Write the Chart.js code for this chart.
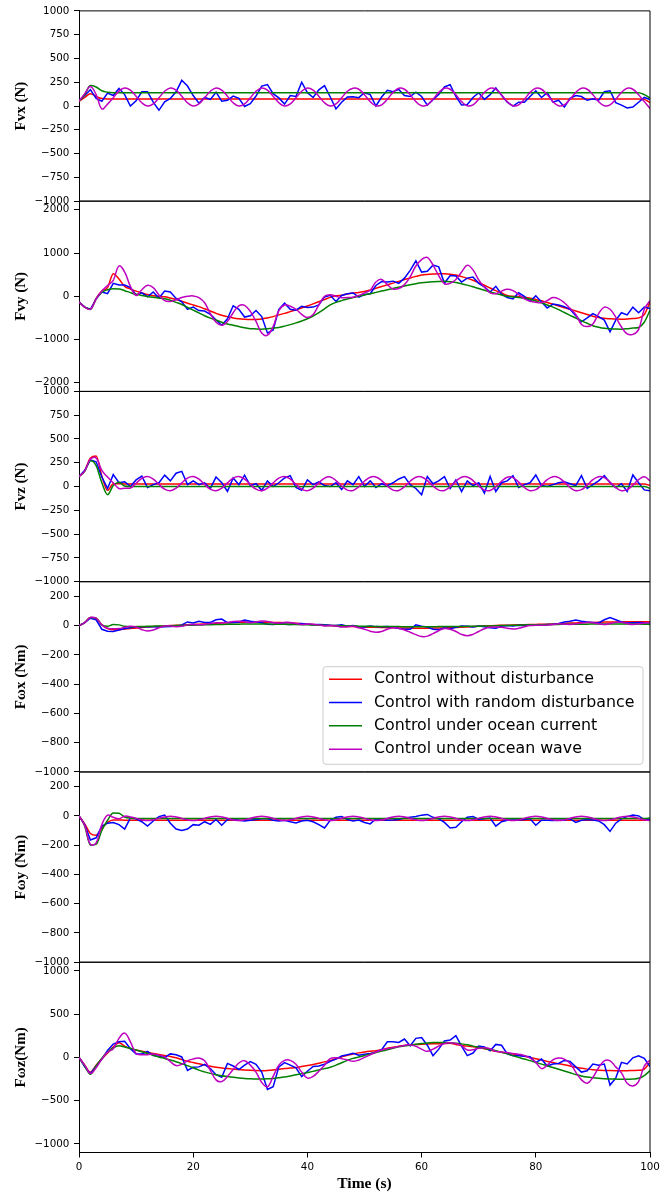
<!DOCTYPE html>
<html><head><meta charset="utf-8">
<script src="https://cdn.jsdelivr.net/npm/chart.js@4.4.1/dist/chart.umd.min.js"></script>
<style>html,body{margin:0;padding:0;background:#fff;}#wrap{position:relative;width:661px;height:1198px;}</style>
</head><body><div id="wrap"><canvas id="c" width="661" height="1198"></canvas></div>
<script>
const timeS = [0,1,2,3,4,5,6,7,8,9,10,11,12,13,14,15,16,17,18,19,20,21,22,23,24,25,26,27,28,29,30,31,32,33,34,35,36,37,38,39,40,41,42,43,44,45,46,47,48,49,50,51,52,53,54,55,56,57,58,59,60,61,62,63,64,65,66,67,68,69,70,71,72,73,74,75,76,77,78,79,80,81,82,83,84,85,86,87,88,89,90,91,92,93,94,95,96,97,98,99,100];
const seriesLabels = ['Control without disturbance','Control with random disturbance','Control under ocean current','Control under ocean wave'];
const seriesColors = ['#ff0000','#0000ff','#008000','#bf00bf'];
const panelTitles = ['Fvx (N)','Fvy (N)','Fvz (N)','F\u03c9x (Nm)','F\u03c9y (Nm)','F\u03c9z(Nm)'];
const panelMin = [-1000,-2200,-1000,-1000,-1000,-1100];
const panelMax = [1000,2200,1000,300,300,1100];
const fvxTicks = [-1000,-750,-500,-250,0,250,500,750,1000];
const fvyTicks = [-2000,-1000,0,1000,2000];
const fvzTicks = [-1000,-750,-500,-250,0,250,500,750,1000];
const fwxTicks = [-1000,-800,-600,-400,-200,0,200];
const fwyTicks = [-1000,-800,-600,-400,-200,0,200];
const fwzTicks = [-1000,-500,0,500,1000];
const xTicks = [0,20,40,60,80,100];

// ---- Fvx ----
const fvxRed = [50,90,130,100,78,75,75,75,75,75, 75,75,75,75,75,75,75,75,75,75, 75,75,75,75,75,75,75,75,75,75, 75,75,75,75,75,75,75,75,75,75, 75,75,75,75,75,75,75,75,75,75, 75,75,75,75,75,75,75,75,75,75, 75,75,75,75,75,75,75,75,75,75, 75,75,75,75,75,75,75,75,75,75, 75,75,75,75,75,75,75,75,75,75, 75,75,75,75,75,75,75,75,75,70, 35];
const fvxBlue = [55,110,172,80,50,135,110,185,120,0, 55,150,150,40,-45,45,80,150,270,210, 110,30,90,70,145,50,60,105,80,-5, 25,105,210,225,130,85,20,110,100,250, 140,90,170,215,95,-30,40,95,98,88, 140,120,0,95,165,150,175,110,100,145, 100,10,67,120,200,225,100,10,15,90, 140,70,120,190,112,40,0,40,40,100, 160,90,140,42,60,-10,80,110,100,60, 75,62,150,160,35,10,-20,-10,40,90, 67];
const fvxGreen = [50,120,215,200,160,145,140,140,140,140, 140,140,140,140,140,140,140,140,140,140, 140,140,140,140,140,140,140,140,140,140, 140,140,140,140,140,140,140,140,140,140, 140,140,140,140,140,140,140,140,140,140, 140,140,140,140,140,140,140,140,140,140, 140,140,140,140,140,140,140,140,140,140, 140,140,140,140,140,140,140,140,140,140, 140,140,140,140,140,140,140,140,140,140, 140,140,140,140,140,140,140,140,140,120, 85];
const fvxMagenta = [50,130,205,120,-30,20,88,157,190,167, 103,34,0,22,86,155,190,167,103,34, 0,22,86,155,190,167,103,34,0,22, 86,155,190,167,103,34,0,22,86,155, 190,167,103,34,0,22,86,155,187,176, 118,46,3,13,71,143,187,176,118,46, 3,13,71,143,187,176,118,46,3,13, 71,143,187,176,118,46,3,13,71,143, 187,176,118,46,3,13,71,143,187,176, 118,46,3,13,71,143,187,176,118,46, -25];

// ---- Fvy ----
const fvyRed = [-130,-250,-300,-50,120,200,520,400,230,170, 120,80,40,15,0,-10,-40,-75,-115,-160, -200,-240,-290,-340,-395,-440,-470,-500,-520,-532, -538,-535,-525,-500,-470,-430,-395,-355,-315,-270, -225,-175,-125,-75,-25,10,25,55,75,90, 110,145,185,225,265,305,345,385,425,460, 490,505,515,523,520,510,490,455,415,370, 315,255,192,130,75,20,0,-10,-20,-45, -75,-105,-145,-185,-225,-265,-300,-340,-380,-420, -460,-490,-510,-520,-528,-530,-525,-515,-500,-420, -130];
const fvyBlue = [-130,-250,-300,-60,100,60,300,260,260,200, 30,80,-10,100,-40,120,100,-50,-130,-300, -250,-330,-340,-420,-550,-670,-520,-220,-300,-480, -450,-330,-470,-850,-780,-300,-160,-300,-320,-230, -260,-250,-200,-15,23,-120,20,60,77,-20, 40,60,250,340,330,350,300,420,600,820, 560,580,720,680,300,480,470,330,420,446, 300,220,100,230,50,-30,-60,80,0,-115, 10,-130,-270,-180,-200,-240,-300,-450,-590,-500, -400,-470,-550,-820,-550,-380,-430,-250,-380,-250, -285];
const fvyGreen = [-130,-250,-300,-60,95,150,175,170,130,85, 45,20,-5,-25,-40,-55,-90,-140,-190,-255, -320,-385,-450,-505,-550,-600,-640,-670,-700,-730, -748,-755,-760,-752,-738,-720,-690,-655,-615,-570, -520,-460,-380,-290,-200,-140,-100,-65,-30,0, 30,60,90,120,150,180,210,240,268,292, 312,326,336,343,345,338,320,292,258,220, 180,140,100,65,30,0,-15,-30,-45,-70, -110,-150,-200,-250,-310,-375,-440,-505,-565,-625, -680,-715,-740,-752,-758,-760,-750,-735,-720,-600, -323];
const fvyMagenta = [-130,-250,-300,-60,120,250,370,700,560,230, 20,150,254,200,30,-100,-120,-80,-30,0, 8,-30,-150,-400,-600,-670,-580,-380,-220,-210, -350,-580,-850,-900,-700,-330,-200,-230,-300,-420, -490,-420,-200,0,38,0,-35,-30,-20,20, 80,140,330,390,270,170,180,270,450,700, 850,900,720,480,290,300,390,560,720,610, 380,210,80,60,120,160,130,40,-60,-115, -140,-146,-100,-30,-60,-150,-280,-420,-650,-700, -640,-400,-250,-300,-480,-710,-870,-880,-770,-300, -100];

// ---- Fvz ----
const fvzRed = [105,165,300,320,110,-40,30,30,28,28, 28,28,28,28,28,28,28,28,28,28, 28,28,28,28,28,28,28,28,28,28, 28,28,28,28,28,28,28,28,28,28, 28,28,28,28,28,28,28,28,28,28, 28,28,28,28,28,28,28,28,28,28, 28,28,28,28,28,28,28,28,28,28, 28,28,28,28,28,28,28,28,28,28, 28,28,28,28,28,28,28,28,28,28, 28,28,28,28,28,28,28,28,28,28, 10];
const fvzBlue = [105,170,280,260,100,-20,125,40,50,0, 70,110,-10,20,40,120,60,140,160,20, 60,20,40,-20,100,40,-50,90,20,120, 10,30,-40,60,0,40,90,115,-10,-40, 70,20,50,10,0,40,-30,60,20,105, 0,60,-10,30,10,40,80,105,20,-20, -87,105,30,60,105,-20,70,-52,60,10, 40,-70,105,-52,40,60,115,-10,20,40, 122,10,0,20,40,50,30,10,115,-20, 20,60,115,40,-10,30,-52,122,40,-35, -45];
const fvzGreen = [105,160,270,220,40,-85,10,45,5,0, 0,0,0,0,0,0,0,0,0,0, 0,0,0,0,0,0,0,0,0,0, 0,0,0,0,0,0,0,0,0,0, 0,0,0,0,0,0,0,0,0,0, 0,0,0,0,0,0,0,0,0,0, 0,0,0,0,0,0,0,0,0,0, 0,0,0,0,0,0,0,0,0,0, 0,0,0,0,0,0,0,0,0,0, 0,0,0,0,0,0,0,0,0,0, -20];
const fvzMagenta = [105,165,290,300,170,100,40,-20,-17,-15, 35,87,105,78,23,-28,-45,-17,39,89, 105,78,23,-28,-45,-17,39,89,105,78, 23,-28,-45,-17,39,89,105,78,23,-28, -45,-17,39,89,101,63,6,-37,-41,-2, 56,98,101,63,6,-37,-41,-2,56,98, 101,63,6,-37,-41,-2,56,98,101,63, 6,-37,-41,-2,56,98,94,47,-10,-43, -33,15,72,104,94,47,-10,-43,-33,15, 72,104,94,47,-10,-43,-33,15,72,104, 60];

// ---- Fωx ----
const fwxRed = [0,20,55,50,5,-20,-28,-28,-24,-20, -16,-13,-10,-7,-5,-3,0,2,4,6, 8,9,11,13,15,17,19,21,22,23, 23,23,23,23,22,21,20,18,16,13, 10,7,5,2,0,-2,-4,-6,-7,-9, -10,-11,-12,-13,-14,-15,-16,-17,-17,-18, -18,-18,-17,-17,-16,-14,-13,-11,-9,-7, -5,-3,-1,1,2,3,4,5,6,7, 8,9,10,11,13,15,17,18,20,21, 22,23,24,24,25,25,26,26,27,27, 25];
const fwxBlue = [0,20,50,40,-25,-38,-40,-30,-20,-15, -10,-8,-8,-8,-10,-8,-7,-5,5,25, 18,30,22,22,40,45,20,22,25,38, 30,25,20,10,8,12,10,8,12,15, 10,5,8,5,2,0,5,-5,0,-8, -10,-3,-7,-8,-6,-12,-20,-25,-25,5, -5,-10,-25,-28,-15,-22,-12,-3,-5,-10, -2,-8,-15,-18,-5,0,-3,2,0,5, 2,5,8,10,15,25,30,38,30,25, 22,18,40,55,40,25,18,20,22,20, 18];
const fwxGreen = [0,20,55,50,5,-5,8,5,-5,-8, -7,-6,-5,-4,-3,-2,-1,0,1,2, 3,4,5,6,7,8,9,10,10,11, 11,11,11,11,10,10,9,8,7,6, 5,4,3,2,1,0,-1,-2,-3,-4, -5,-5,-6,-6,-7,-7,-7,-8,-8,-8, -8,-8,-8,-7,-7,-7,-6,-6,-5,-5, -4,-3,-2,-1,0,1,2,3,4,5, 6,6,7,8,8,9,9,10,10,10, 11,11,11,11,11,11,11,11,11,10, 8];
const fwxMagenta = [0,20,55,50,5,-18,-22,-20,-12,-5, -10,-28,-37,-30,-15,-3,-2,-8,-5,5, 8,5,8,15,20,18,22,28,30,26, 20,25,32,28,20,18,22,22,15,8, 10,10,5,-2,0,-2,-10,-8,-5,-15, -25,-38,-46,-40,-25,-15,-18,-30,-45,-62, -75,-72,-55,-35,-20,-25,-40,-60,-69,-60, -40,-22,-12,-10,-12,-18,-23,-18,-8,0, 3,2,3,8,12,10,8,12,18,22, 20,12,8,14,22,22,14,8,12,18, 20];

// ---- Fωy ----
const fwyRed = [0,-55,-120,-132,-85,-45,-28,-28,-30,-30, -30,-30,-30,-30,-30,-30,-30,-30,-30,-30, -30,-30,-30,-30,-30,-30,-30,-30,-30,-30, -30,-30,-30,-30,-30,-30,-30,-30,-30,-30, -30,-30,-30,-30,-30,-30,-30,-30,-30,-30, -30,-30,-30,-30,-30,-30,-30,-30,-30,-30, -30,-30,-30,-30,-30,-30,-30,-30,-30,-30, -30,-30,-30,-30,-30,-30,-30,-30,-30,-30, -30,-30,-30,-30,-30,-30,-30,-30,-30,-30, -30,-30,-30,-30,-30,-30,-30,-30,-30,-30, -30];
const fwyBlue = [0,-60,-165,-150,-70,-50,-45,-60,-90,-14, -20,-40,-70,-35,-5,5,-50,-90,-100,-90, -60,-64,-40,-58,-25,-64,-25,-25,-30,-35, -30,-25,-20,-20,-30,-35,-30,-40,-48,-35, -30,-40,-60,-83,-30,-10,-5,-25,-35,-28, -45,-55,-20,-25,-30,-28,-25,-15,-10,-5, 5,10,-10,-20,-45,-83,-78,-40,-10,-5, -25,-20,-15,-70,-40,-30,-28,-28,-25,-20, -64,-30,-30,-32,-30,-28,-20,-45,-30,-25, -28,-35,-60,-106,-50,-20,-5,5,0,-25, -25];
const fwyGreen = [0,-70,-200,-195,-100,-30,20,18,-8,-16, -18,-18,-18,-18,-18,-18,-18,-18,-18,-18, -18,-18,-18,-18,-18,-18,-18,-18,-18,-18, -18,-18,-18,-18,-18,-18,-18,-18,-18,-18, -18,-18,-18,-18,-18,-18,-18,-18,-18,-18, -18,-18,-18,-18,-18,-18,-18,-18,-18,-18, -18,-18,-18,-18,-18,-18,-18,-18,-18,-18, -18,-18,-18,-18,-18,-18,-18,-18,-18,-18, -18,-18,-18,-18,-18,-18,-18,-18,-18,-18, -18,-18,-18,-18,-18,-18,-18,-18,-18,-18, -15];
const fwyMagenta = [0,-65,-195,-185,-60,5,-10,-20,-2,-7, -17,-27,-32,-27,-17,-7,-2,-7,-17,-27, -32,-27,-17,-7,-2,-7,-17,-27,-32,-27, -17,-7,-2,-7,-17,-27,-32,-27,-17,-7, -2,-7,-17,-27,-32,-27,-17,-7,-2,-7, -17,-27,-32,-27,-17,-7,-2,-7,-17,-27, -32,-27,-17,-7,-2,-7,-17,-27,-32,-27, -17,-7,-2,-7,-17,-27,-32,-27,-17,-7, -2,-7,-17,-27,-32,-27,-17,-7,-2,-7, -17,-27,-32,-27,-17,-7,-2,-7,-17,-27, -32];

// ---- Fωz ----
const fwzRed = [0,-90,-170,-90,-20,50,120,170,130,100, 85,70,58,45,33,22,10,-5,-25,-45, -60,-75,-88,-102,-113,-122,-130,-136,-141,-146, -150,-153,-154,-152,-146,-138,-130,-124,-118,-105, -95,-82,-68,-52,-38,-15,5,25,40,52, 62,70,76,88,105,118,128,137,144,149, 152,154,156,158,160,162,150,138,130,122, 115,100,85,70,58,48,38,26,13,0, -15,-31,-47,-60,-73,-86,-100,-114,-127,-136, -143,-148,-151,-153,-154,-154,-154,-152,-150,-135, -58];
const fwzBlue = [0,-110,-190,-100,-20,80,154,180,185,100, 38,40,69,20,15,0,40,30,5,-150, -115,-110,-80,-130,-200,-231,-70,-100,-140,-90, -50,-80,-170,-370,-340,-110,-60,-90,-120,-223, -160,-105,-100,-80,-46,-20,15,30,46,25, 35,45,60,90,180,180,173,212,135,220, 230,140,20,95,190,200,250,130,20,50, 130,120,77,150,140,40,19,19,12,8, -60,-19,-100,-77,-70,-35,-46,-110,-170,-155, -77,-90,-77,-320,-240,-58,-77,-5,19,-10, -108];
const fwzGreen = [0,-100,-195,-100,-10,60,110,135,120,105, 85,65,45,25,5,-12,-30,-50,-72,-95, -120,-148,-168,-185,-200,-212,-222,-231,-238,-244, -248,-250,-250,-248,-243,-236,-226,-215,-202,-188, -175,-162,-145,-130,-115,-90,-62,-35,-12,5, 22,37,55,72,88,105,122,133,142,152, 160,167,171,173,173,170,164,156,145,130, 116,103,90,78,60,40,20,0,-20,-38, -58,-78,-98,-118,-138,-158,-178,-198,-215,-228, -236,-242,-246,-249,-251,-253,-254,-250,-242,-210, -154];
const fwzMagenta = [0,-90,-185,-120,-20,60,100,220,280,180, 45,30,31,38,25,5,-50,-95,-80,-40, -19,-8,-40,-150,-260,-280,-220,-140,-65,-38, -90,-170,-290,-340,-220,-90,-35,-35,-80,-170, -240,-220,-160,-90,-15,-5,-15,-30,-46,-30, 0,30,60,85,100,112,125,138,146,128, 95,70,95,130,160,169,160,135,85,88, 105,112,100,69,62,55,45,35,22,-10, -58,-130,-90,-30,-8,-20,-70,-170,-260,-300, -230,-120,-40,-40,-110,-180,-300,-330,-280,-100, -30];

const panelSeries = [
  [fvxRed, fvxBlue, fvxGreen, fvxMagenta],
  [fvyRed, fvyBlue, fvyGreen, fvyMagenta],
  [fvzRed, fvzBlue, fvzGreen, fvzMagenta],
  [fwxRed, fwxBlue, fwxGreen, fwxMagenta],
  [fwyRed, fwyBlue, fwyGreen, fwyMagenta],
  [fwzRed, fwzBlue, fwzGreen, fwzMagenta]
];
const panelTicks = [fvxTicks, fvyTicks, fvzTicks, fwxTicks, fwyTicks, fwzTicks];

const datasets = [];
panelSeries.forEach((group, p) => {
  group.forEach((vals, s) => {
    datasets.push({
      label: seriesLabels[s],
      data: vals.map((v, i) => ({x: timeS[i], y: v})),
      xAxisID: 'x',
      yAxisID: 'y' + (p + 1),
      borderColor: seriesColors[s],
      backgroundColor: seriesColors[s],
      borderWidth: 1.5,
      pointRadius: 0,
      fill: false,
      order: 4 - s,
      tension: s === 1 ? 0 : 0.4,
      cubicInterpolationMode: (s === 0 || s === 2) ? 'monotone' : 'default'
    });
  });
});

const fmt = v => (v < 0 ? '\u2212' + Math.abs(v) : String(v));
const tickFont = {family: 'DejaVu Sans', size: 10.3};
const titleFont = {family: 'Liberation Serif', size: 15, weight: 'bold'};

const scales = {
  x: {
    type: 'linear', position: 'bottom', min: 0, max: 100,
    afterBuildTicks: s => { s.ticks = xTicks.map(v => ({value: v})); },
    ticks: {font: tickFont, color: '#000', padding: 3.8, maxRotation: 0, autoSkip: false, callback: fmt},
    grid: {drawOnChartArea: false, drawTicks: true, tickLength: 5, color: '#000', lineWidth: 1},
    border: {display: true, color: '#000', width: 1},
    title: {display: true, text: 'Time (s)', color: '#000',
      font: {family: 'Liberation Serif', size: 15.5, weight: 'bold'}, padding: {top: 0, bottom: 4.7}},
    afterFit: s => { s.height = 45.5; s.paddingLeft = 0; s.paddingRight = 0; }
  }
};
for (let p = 0; p < 6; p++) {
  scales['y' + (p + 1)] = {
    type: 'linear', position: 'left', stack: 'panels', stackWeight: 1, weight: 6 - p,
    min: panelMin[p], max: panelMax[p],
    afterBuildTicks: s => { s.ticks = panelTicks[p].map(v => ({value: v})); },
    ticks: {font: tickFont, color: '#000', padding: 4.7, autoSkip: false, callback: fmt},
    grid: {drawOnChartArea: false, drawTicks: true, tickLength: 5, color: '#000', lineWidth: 1},
    border: {display: true, color: '#000', width: 1},
    title: {display: true, text: panelTitles[p], color: '#000', font: titleFont, padding: {top: 12, bottom: 0}},
    afterFit: s => { s.width = 79; }
  };
}

const spinePlugin = {
  id: 'spines',
  afterDatasetsDraw(chart) {
    const ctx = chart.ctx, ca = chart.chartArea;
    ctx.save();
    ctx.strokeStyle = '#000';
    ctx.lineWidth = 1;
    for (let p = 1; p <= 6; p++) {
      const s = chart.scales['y' + p];
      ctx.beginPath();
      ctx.moveTo(ca.left, s.top); ctx.lineTo(ca.right, s.top);
      ctx.moveTo(ca.left, s.bottom); ctx.lineTo(ca.right, s.bottom);
      ctx.moveTo(ca.right, s.top); ctx.lineTo(ca.right, s.bottom);
      ctx.stroke();
    }
    ctx.restore();
  }
};

const legendPlugin = {
  id: 'insetLegend',
  afterDraw(chart) {
    const ctx = chart.ctx, ca = chart.chartArea, s = chart.scales.y4;
    const w = 320, h = 97.6;
    const right = ca.right - 7, bottom = s.bottom - 7.7;
    const left = right - w, top = bottom - h, r = 3;
    ctx.save();
    ctx.beginPath();
    ctx.moveTo(left + r, top);
    ctx.lineTo(right - r, top); ctx.arcTo(right, top, right, top + r, r);
    ctx.lineTo(right, bottom - r); ctx.arcTo(right, bottom, right - r, bottom, r);
    ctx.lineTo(left + r, bottom); ctx.arcTo(left, bottom, left, bottom - r, r);
    ctx.lineTo(left, top + r); ctx.arcTo(left, top, left + r, top, r);
    ctx.closePath();
    ctx.fillStyle = 'rgba(255,255,255,0.8)';
    ctx.fill();
    ctx.strokeStyle = '#cccccc';
    ctx.lineWidth = 1;
    ctx.stroke();
    ctx.font = '15.8px "DejaVu Sans"';
    ctx.textBaseline = 'middle';
    ctx.textAlign = 'left';
    seriesLabels.forEach((lab, i) => {
      const y = top + 12.6 + i * 23.3;
      ctx.strokeStyle = seriesColors[i];
      ctx.lineWidth = 1.5;
      ctx.beginPath(); ctx.moveTo(left + 6, y); ctx.lineTo(left + 39, y); ctx.stroke();
      ctx.fillStyle = '#000';
      ctx.fillText(lab, left + 51, y);
    });
    ctx.restore();
  }
};

new Chart(document.getElementById('c'), {
  type: 'line',
  data: {datasets},
  options: {
    responsive: false,
    animation: false,
    parsing: true,
    layout: {padding: {top: 10, right: 11, bottom: 0, left: 0}},
    plugins: {legend: {display: false}, tooltip: {enabled: false}},
    scales
  },
  plugins: [spinePlugin, legendPlugin]
});
</script>
</body></html>
